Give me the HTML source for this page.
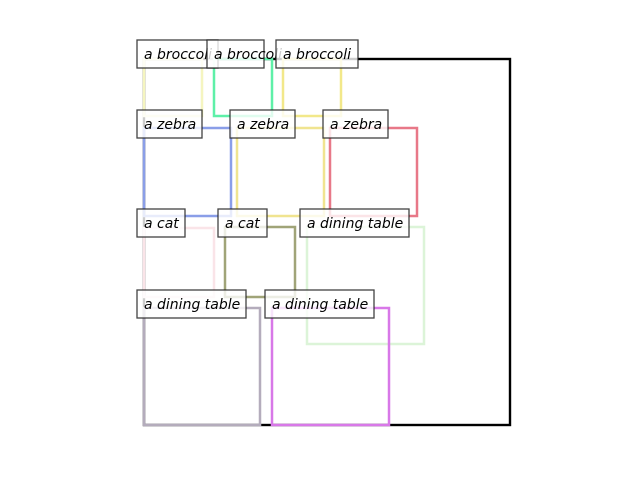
<!DOCTYPE html>
<html><head><meta charset="utf-8"><style>
html,body{margin:0;padding:0;background:#fff;width:640px;height:480px;overflow:hidden}
text{font-family:"DejaVu Sans","Liberation Sans",sans-serif;font-style:italic;font-size:14px;fill:#000}
.lb{fill:#fff;fill-opacity:0.8;stroke:#222;stroke-opacity:0.85;stroke-width:1.3}
.r{fill:none;stroke-width:2.5}
</style></head><body>
<svg width="640" height="480" xmlns="http://www.w3.org/2000/svg">
<rect x="144" y="59" width="366" height="366" fill="none" stroke="#000" stroke-width="2.4"/>
<rect class="r" x="144" y="59" width="58" height="57" stroke="#f5f5c0"/>
<rect class="r" x="214" y="59" width="58" height="57" stroke="#5ef0a8"/>
<rect class="r" x="283" y="59" width="58" height="57" stroke="#f2e88a"/>
<rect class="r" x="144" y="128" width="87" height="88" stroke="#8a9ee8"/>
<rect class="r" x="237" y="128" width="87" height="88" stroke="#f0e490"/>
<rect class="r" x="330" y="128" width="87" height="88" stroke="#e87888"/>
<rect class="r" x="144" y="228" width="70" height="69" stroke="#fae4e8"/>
<rect class="r" x="225" y="227" width="70" height="70" stroke="#a0a478"/>
<rect class="r" x="307" y="227" width="117" height="117" stroke="#dcf4d8"/>
<rect class="r" x="144" y="308" width="116" height="117" stroke="#b4acbc"/>
<rect class="r" x="272" y="308" width="117" height="117" stroke="#d878e8"/>

<rect class="lb" x="137" y="40" width="81" height="28"/><text x="144" y="59">a broccoli</text>
<rect class="lb" x="207" y="40" width="57" height="28"/><text x="214" y="59">a broccoli</text>
<rect class="lb" x="276" y="40" width="82" height="28"/><text x="283" y="59">a broccoli</text>
<rect class="lb" x="137" y="110" width="65" height="28"/><text x="144" y="129">a zebra</text>
<rect class="lb" x="230" y="110" width="65" height="28"/><text x="237" y="129">a zebra</text>
<rect class="lb" x="323" y="110" width="65" height="28"/><text x="330" y="129">a zebra</text>
<rect class="lb" x="137" y="209" width="48" height="28"/><text x="144" y="228">a cat</text>
<rect class="lb" x="218" y="209" width="49" height="28"/><text x="225" y="228">a cat</text>
<rect class="lb" x="300" y="209" width="109" height="28"/><text x="307" y="228">a dining table</text>
<rect class="lb" x="137" y="290" width="109" height="28"/><text x="144" y="309">a dining table</text>
<rect class="lb" x="265" y="290" width="109" height="28"/><text x="272" y="309">a dining table</text>
</svg>
</body></html>
